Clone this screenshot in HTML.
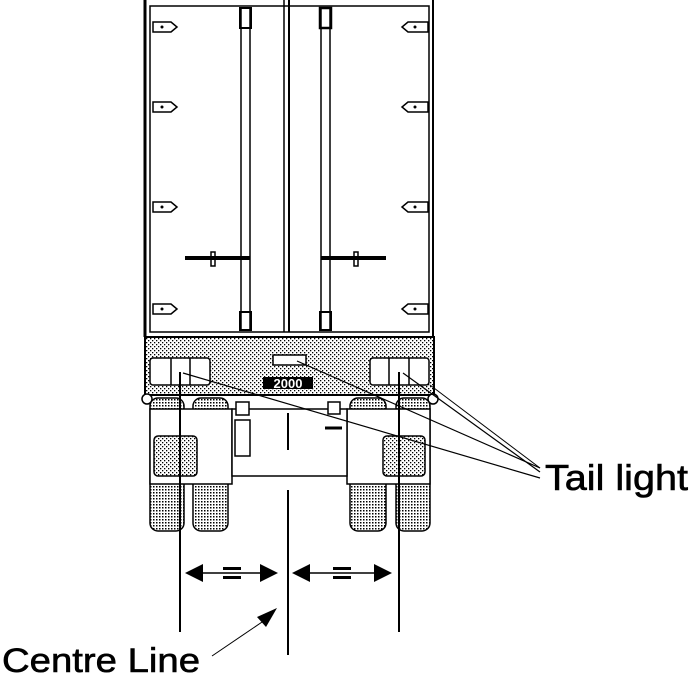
<!DOCTYPE html><html><head><style>body{margin:0;background:#fff}svg{display:block}text{font-family:"Liberation Sans",sans-serif}</style></head><body>
<svg width="692" height="675" viewBox="0 0 692 675" xmlns="http://www.w3.org/2000/svg">
<defs><pattern id="d" width="4" height="4" patternUnits="userSpaceOnUse"><rect width="4" height="4" fill="#fff"/><rect x="0" y="0" width="1.3" height="1.3" fill="#000"/><rect x="2" y="2" width="1.3" height="1.3" fill="#000"/></pattern>
<pattern id="w" width="3" height="3" patternUnits="userSpaceOnUse"><rect width="3" height="3" fill="#fff"/><rect width="1.5" height="1.5" fill="#000"/></pattern></defs>
<g fill="none" stroke="#000" stroke-width="1.5">
<line x1="145" y1="0" x2="145" y2="337" stroke-width="3"/><line x1="433" y1="0" x2="433" y2="337" stroke-width="2"/>
<rect x="150" y="6" width="279" height="326"/>
<line x1="284" y1="0" x2="284" y2="332"/><line x1="289" y1="0" x2="289" y2="332" stroke-width="2"/>
<rect x="241" y="8" width="9" height="322"/><rect x="321" y="8" width="9" height="322"/>
<rect x="240" y="8" width="11" height="20" stroke-width="2"/><rect x="320" y="8" width="11" height="20" stroke-width="2.5"/>
<rect x="240" y="312" width="11" height="18" stroke-width="2"/><rect x="320" y="312" width="11" height="18" stroke-width="2"/>
<line x1="185" y1="258" x2="250" y2="258" stroke-width="4"/><line x1="321" y1="258" x2="386" y2="258" stroke-width="4"/>
<rect x="211" y="252" width="4" height="14"/><rect x="354" y="252" width="4" height="14"/>
</g>
<g fill="#fff" stroke="#000" stroke-width="1.5">
<path d="M153 22h18l6 5l-6 5h-18z"/><path d="M153 102h18l6 5l-6 5h-18z"/><path d="M153 202h18l6 5l-6 5h-18z"/><path d="M153 304h18l6 5l-6 5h-18z"/>
<path d="M428 22h-20l-6 5l6 5h20z"/><path d="M428 102h-20l-6 5l6 5h20z"/><path d="M428 202h-20l-6 5l6 5h20z"/><path d="M428 304h-20l-6 5l6 5h20z"/>
</g>
<g fill="#000"><circle cx="162" cy="27" r="1.5"/><circle cx="162" cy="107" r="1.5"/><circle cx="162" cy="207" r="1.5"/><circle cx="162" cy="309" r="1.5"/><circle cx="415" cy="27" r="1.5"/><circle cx="415" cy="107" r="1.5"/><circle cx="415" cy="207" r="1.5"/><circle cx="415" cy="309" r="1.5"/></g>
<rect x="145" y="337" width="289" height="58" fill="url(#d)" stroke="#000" stroke-width="2"/>
<g fill="#fff" stroke="#000" stroke-width="1.5">
<rect x="150" y="358" width="60" height="27" rx="3"/><line x1="171" y1="358" x2="171" y2="385"/><line x1="190" y1="358" x2="190" y2="385"/>
<rect x="370" y="358" width="59" height="27" rx="3"/><line x1="389" y1="358" x2="389" y2="385"/><line x1="409" y1="358" x2="409" y2="385"/>
<rect x="273" y="355" width="33" height="10"/>
</g>
<rect x="263" y="377" width="50" height="12" fill="#000"/><text x="288" y="388" font-size="13" font-weight="bold" fill="#fff" text-anchor="middle">2000</text>
<g stroke="#000" stroke-width="1.5">
<rect x="150" y="398" width="34" height="133" rx="8" fill="url(#w)"/><rect x="193" y="398" width="35" height="133" rx="8" fill="url(#w)"/>
<rect x="350" y="398" width="36" height="133" rx="8" fill="url(#w)"/><rect x="396" y="398" width="34" height="133" rx="8" fill="url(#w)"/>
<rect x="150" y="409" width="82" height="75" fill="#fff"/><rect x="347" y="409" width="83" height="75" fill="#fff"/>
<rect x="232" y="409" width="115" height="67" fill="#fff"/>
<rect x="154" y="436" width="43" height="40" rx="4" fill="url(#d)"/><rect x="383" y="436" width="42" height="40" rx="4" fill="url(#d)"/>
<rect x="236" y="402" width="13" height="13" fill="#fff"/><rect x="235" y="420" width="15" height="36" fill="#fff"/>
<rect x="328" y="402" width="12" height="12" fill="#fff"/><line x1="325" y1="428" x2="342" y2="428" stroke-width="3"/>
<circle cx="147" cy="399" r="5" fill="#fff"/><circle cx="433" cy="399" r="5" fill="#fff"/>
</g>
<g stroke="#000" fill="none">
<line x1="288" y1="413" x2="288" y2="450" stroke-width="2"/><line x1="288" y1="490" x2="288" y2="655" stroke-width="2"/>
<line x1="180" y1="372" x2="180" y2="632" stroke-width="2"/><line x1="399" y1="372" x2="399" y2="632" stroke-width="2"/>
<line x1="183" y1="373" x2="540" y2="478" stroke-width="1.2"/><line x1="403" y1="373" x2="540" y2="472" stroke-width="1.2"/>
<line x1="297" y1="361" x2="540" y2="468" stroke-width="1.2"/><line x1="430" y1="385" x2="540" y2="468" stroke-width="1"/>
<line x1="200" y1="573" x2="262" y2="573" stroke-width="1.5"/><line x1="305" y1="573" x2="377" y2="573" stroke-width="1.5"/>
<line x1="212" y1="656" x2="265" y2="620" stroke-width="1"/>
</g>
<g fill="#000">
<path d="M185 573l18-9v18z"/><path d="M278 573l-18-9v18z"/><path d="M292 573l18-9v18z"/><path d="M392 573l-18-9v18z"/>
<path d="M277 608l-20 9l9 10z"/>
<rect x="223" y="567" width="18" height="3"/><rect x="223" y="576" width="18" height="3"/>
<rect x="333" y="567" width="18" height="3"/><rect x="333" y="576" width="18" height="3"/>
</g>
<text x="545" y="490" font-size="36" textLength="143" lengthAdjust="spacingAndGlyphs" stroke="#000" stroke-width="0.6">Tail  light</text>
<text x="2" y="672" font-size="34" textLength="198" lengthAdjust="spacingAndGlyphs" stroke="#000" stroke-width="0.6">Centre  Line</text>
</svg></body></html>
